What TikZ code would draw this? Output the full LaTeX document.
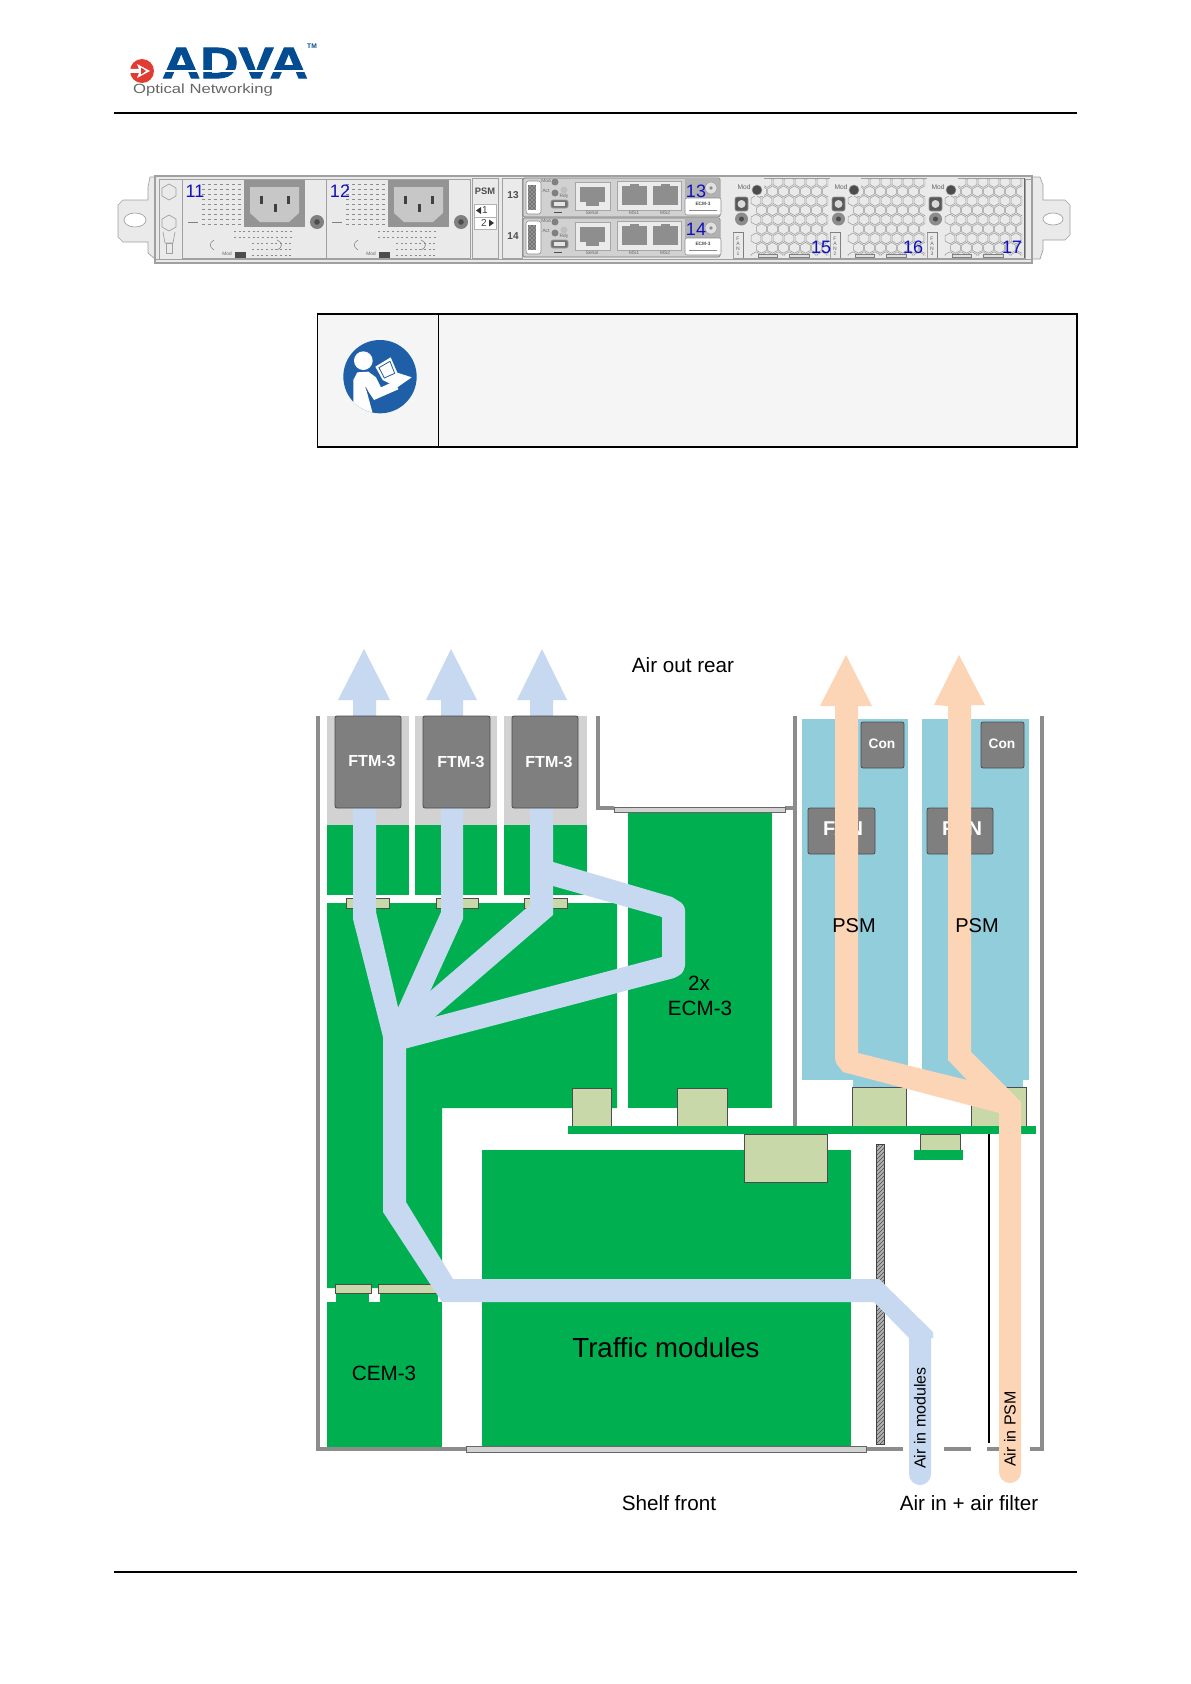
\documentclass[tikz,border=0pt]{standalone}
\usepackage{fontspec}
\setmainfont{Liberation Sans}
\usetikzlibrary{patterns}
\definecolor{pgreen}{HTML}{00B050}
\definecolor{ppale}{HTML}{C9D8A8}
\definecolor{pblue}{HTML}{C6D9F0}
\definecolor{porange}{HTML}{FBD5B5}
\definecolor{ppsm}{HTML}{92CDDC}
\definecolor{pdark}{HTML}{7F7F7F}
\definecolor{plight}{HTML}{D2D2D2}
\definecolor{pwall}{HTML}{8C8C8C}
\definecolor{pnum}{HTML}{1010C0}
\definecolor{pbody}{HTML}{EAEAEA}
\definecolor{pedge}{HTML}{A0A0A0}
\definecolor{pport}{HTML}{8E8E8E}
\definecolor{plogo}{HTML}{034C92}
\definecolor{pred}{HTML}{E03C31}
\definecolor{pnote}{HTML}{F5F5F5}
\definecolor{pinfo}{HTML}{1F5FA8}
\newcommand\fs[1]{\fontsize{#1}{#1}\selectfont}
\newcommand\hexcell[2]{\draw[hexline] (#1,#2-5.4) -- (#1+4.8,#2-2.7) -- (#1+4.8,#2+2.7) -- (#1,#2+5.4) -- (#1-4.8,#2+2.7) -- (#1-4.8,#2-2.7) -- cycle;}
\tikzset{
  txt/.style={inner sep=0pt,font=\fs{15.5}},
  wall/.style={line width=2.4pt,pwall},
  greenbox/.style={fill=pgreen,draw=none},
  palebox/.style={fill=ppale,draw=black!70,line width=.5pt},
  darkbox/.style={fill=pdark,draw=black!70,line width=.6pt,rounded corners=1.5pt},
  bezel/.style={fill=plight,draw=black!60,line width=.6pt},
  hexline/.style={draw=black!40,line width=.4pt},
  panelbox/.style={fill=pbody,draw=pedge,line width=.5pt},
  num/.style={inner sep=0pt,text=pnum,font=\fs{13.5}},
  tiny/.style={inner sep=0pt,text=black!60,font=\fs{3.6}},
  ftmtxt/.style={inner sep=0pt,text=white,font=\bfseries\fs{12}},
  contxt/.style={inner sep=0pt,text=white,font=\bfseries\fs{10.3}},
  fantxt/.style={inner sep=0pt,text=white,font=\bfseries\fs{15}},
}
\begin{document}
\begin{tikzpicture}[x=0.75pt,y=-0.75pt]
\useasboundingbox (0,0) rectangle (1191,1684);
\fill[white] (0,0) rectangle (1191,1684);
% ---- header / footer
\draw[line width=1.5pt] (114,113) -- (1077,113);
\draw[line width=1.5pt] (114,1572) -- (1077,1572);
% logo
\fill[pred] (142,71) circle (12);
\fill[white] (130,69) -- (139,69) -- (137,64) -- (150,71) -- (137,78) -- (139,73) -- (130,73) -- cycle;
\fill[pred] (141,67.5) -- (146,71) -- (141,74.5) -- cycle;
\node[inner sep=0pt,text=plogo,font=\bfseries\fs{33}\addfontfeature{FakeBold=2},xscale=1.2] (logoname) at (235,63) {ADVA};
\fill[white] (160,70) rectangle (310,71.6);
\node[inner sep=0pt,text=plogo,font=\bfseries\fs{5}] (logotm) at (312,46) {TM};
\node[inner sep=0pt,text=black!60,font=\fs{10},xscale=1.25] (logosub) at (203,90.5) {Optical Networking};
% ---- rear panel
\draw[panelbox] (155,177) -- (150,177) -- (148,187) -- (148,200) -- (123,200) -- (118,205) -- (118,237) -- (123,242) -- (148,242) -- (148,253) -- (155,259) -- cycle;
\draw[panelbox,fill=white] (135,220) ellipse (11 and 7);
\draw[panelbox] (1032,177) -- (1040,177) -- (1043,185) -- (1043,200) -- (1065,200) -- (1070,205) -- (1070,235) -- (1065,240) -- (1043,240) -- (1043,250) -- (1040,259) -- (1032,259) -- cycle;
\draw[panelbox,fill=white] (1053,219) ellipse (10 and 6);
\draw[panelbox,line width=.8pt] (155,176) rectangle (1032,263);
\draw[pedge,line width=.5pt] (155,259) -- (1032,259);
\draw[pedge,line width=.5pt] (159,179) rectangle (182,259);
\draw[panelbox] (169,184) -- (176,188) -- (176,196) -- (169,200) -- (162,196) -- (162,188) -- cycle;
\draw[panelbox] (169,215) -- (176,219) -- (176,227) -- (169,231) -- (162,227) -- (162,219) -- cycle;
\draw[pedge,line width=.5pt] (163,232) -- (165,243) -- (173,243) -- (175,232);
\draw[panelbox] (166,243) rectangle (172,253);
\draw[pedge,line width=.5pt] (1025,179) rectangle (1031,259);
% PSU modules
\foreach \ox in {182,326}{
\begin{scope}[shift={(\ox,0)}]
  \draw[panelbox] (0,179) rectangle (144,258);
  \foreach \ry in {184,189,...,224}{\draw[black!45,line width=.7pt,dash pattern=on 2pt off 2.5pt] (20,\ry) -- (60,\ry);}
  \foreach \ry in {231,237,...,255}{\draw[black!45,line width=.7pt,dash pattern=on 1.5pt off 2pt] (\ifnum\ry>237 70\else 52\fi,\ry) -- (110,\ry);}
  \draw[black!50,line width=.5pt] (6,222) -- (16,222);
  \draw[black!50,line width=.4pt] (32,240) .. controls (27,243) and (27,247) .. (32,250);
  \draw[black!50,line width=.4pt] (95,240) .. controls (101,243) and (101,247) .. (95,250);
  \fill[black!42] (62,180) rectangle (123,227);
  \fill[black!22] (68,187) -- (117,187) -- (117,213) -- (107,222) -- (78,222) -- (68,213) -- cycle;
  \fill[black!75] (77.5,196) rectangle (81,204);
  \fill[black!75] (104.5,196) rectangle (108,204);
  \fill[black!75] (91.5,204) rectangle (95,212);
  \fill[black!50] (135,222) circle (7);
  \fill[black!70] (135,222) circle (2.8);
  \fill[black!70] (53,252) rectangle (64,258);
  \node[tiny] at (45,253.5) {Mod};
\end{scope}}
\node[num] (n11) at (195,191) {11};
\node[num] (n12) at (340,191) {12};
% PSM column
\draw[panelbox] (472,178) rectangle (498,258);
\node[inner sep=0pt,text=black!70,font=\bfseries\fs{7}] (psmcol) at (485,191) {PSM};
\draw[panelbox,fill=white,draw=black!30] (474,204) rectangle (496,217);
\draw[panelbox,fill=white,draw=black!30] (474,217) rectangle (496,229);
\fill[black!80] (476,210.5) -- (481,207) -- (481,214) -- cycle;
\fill[black!80] (494,223) -- (489,219.5) -- (489,226.5) -- cycle;
\node[inner sep=0pt,text=black!75,font=\fs{7.5}] (psm1) at (485,210.5) {1};
\node[inner sep=0pt,text=black!75,font=\fs{7.5}] (psm2) at (484,223) {2};
% slot numbers
\draw[panelbox] (502,178) rectangle (522,258);
\node[inner sep=0pt,text=black!70,font=\bfseries\fs{7.5}] (slot13) at (513,195) {13};
\node[inner sep=0pt,text=black!70,font=\bfseries\fs{7.5}] (slot14) at (513,236) {14};
% ECM modules
\foreach \oy in {178,218}{
\begin{scope}[shift={(523,\oy)}]
  \draw[fill=black!18,draw=black!55,line width=.5pt,rounded corners=1pt] (0,0) rectangle (197,39);
  \draw[fill=white,draw=black!45,line width=.4pt,rounded corners=2pt] (3,3) rectangle (18,36);
  \fill[black!55] (5,7) rectangle (13,32);
  \fill[pattern=crosshatch dots,pattern color=white] (5,7) rectangle (13,32);
  \fill[black!50] (32,4) circle (3.5);
  \fill[black!50] (32,15) circle (3.5);
  \fill[black!25] (41,12) circle (3.5);
  \node[tiny] at (23,2.5) {Mod};
  \node[tiny] at (23,12.5) {Act};
  \node[tiny] at (41,18) {Rdy};
  \draw[fill=black!55,draw=black!40,line width=.5pt,rounded corners=1.5pt] (28,22) rectangle (45,30);
  \fill[black!10] (31,24) rectangle (42,28);
  \draw[black!70,line width=.4pt] (31,34) -- (39,34);
  \draw[fill=black!8,draw=black!35,line width=.4pt] (52,4) rectangle (87,32);
  \fill[pport] (57,9) rectangle (82,24);
  \fill[pport] (63,24) rectangle (76,28);
  \node[tiny] at (69,35) {Serial};
  \draw[fill=black!8,draw=black!35,line width=.4pt] (94,3) rectangle (158,32);
  \fill[pport] (99,8) rectangle (124,27);
  \fill[pport] (107,6) rectangle (116,8);
  \fill[pport] (130,8) rectangle (155,27);
  \fill[pport] (138,6) rectangle (147,8);
  \node[tiny] at (111,35) {MS1};
  \node[tiny] at (142,35) {MS2};
  \fill[black!30] (162,0) rectangle (196,20);
  \draw[fill=black!12,draw=black!40,line width=.4pt] (188,10) circle (6);
  \fill[black!45] (188,10) circle (1.8);
  \draw[fill=white,draw=black!45,line width=.4pt,rounded corners=1.5pt] (162,20) rectangle (198,37);
  \node[inner sep=0pt,text=black!70,font=\bfseries\fs{3.6}] at (180,25.5) {ECM-3};
  \draw[black!45,line width=.7pt] (166,32) -- (194,32);
\end{scope}}
\node[num] (n13) at (696,191) {13};
\node[num] (n14) at (696,229) {14};
% fan modules
\foreach \ox/\fnum in {733/1,830/2,927/3}{
\begin{scope}[shift={(\ox,178)}]
  \draw[panelbox] (0,0) rectangle (97,80);
  \begin{scope}
    \clip (17,0) rectangle (95,77);
    \foreach \j in {0,...,8}{\foreach \i in {0,...,7}{
      \pgfmathsetmacro\hx{23+11*\i+5.5*mod(\j,2)}
      \pgfmathsetmacro\hy{4+9.4*\j}
      \hexcell{\hx}{\hy}
    }}
  \end{scope}
  \fill[pbody] (0,0) rectangle (15,55);
  \fill[pbody] (0,0) rectangle (31,18);
  \node[inner sep=0pt,text=black!60,font=\fs{5}] at (11,9) {Mod};
  \draw[fill=black!70,draw=black!40,line width=.4pt] (24,12) circle (5);
  \draw[fill=black!65,draw=black!40,line width=.4pt,rounded corners=1.5pt] (2,19) rectangle (15,33);
  \fill[black!15] (8.5,26) circle (4);
  \fill[black!45] (8.5,41) circle (6.5);
  \fill[black!70] (8.5,41) circle (2.5);
  \draw[black!50,line width=.4pt] (0,54) -- (10,54) -- (10,80);
  \node[inner sep=0pt,text=black!60,font=\fs{3.8},align=center] at (5,68) {F\\A\\N\\\fnum};
  \draw[fill=black!12,draw=black!50,line width=.4pt] (25,76) rectangle (44,79);
  \draw[fill=black!12,draw=black!50,line width=.4pt] (56,76) rectangle (76,79);
  \draw[black!60,line width=.6pt] (97,0) -- (97,80);
\end{scope}}
\node[num] (n15) at (821,247) {15};
\node[num] (n16) at (913,247) {16};
\node[num] (n17) at (1012,247) {17};
% ---- note box
\draw[fill=pnote,line width=.9pt] (317.5,314) rectangle (1077,447);
\draw[line width=.75pt] (438,314) -- (438,447);
\begin{scope}[shift={(300,300)},x=0.25pt,y=-0.25pt]
  \fill[pinfo] (240,230) circle (110);
  \begin{scope}
    \clip (240,230) circle (110);
    \fill[white] (190,182) circle (28);
    \fill[white] (160,240) -- (172,217) -- (205,215) -- (228,232) -- (243,262) -- (285,243) -- (295,268) -- (222,300) -- (197,262) -- (218,340) -- (160,340) -- cycle;
    \fill[white] (226,200) -- (272,172) -- (292,218) -- (335,232) -- (292,262) -- (248,240) -- cycle;
    \draw[pinfo,line width=.6pt] (237,203) -- (270,184) -- (284,220) -- (253,234) -- cycle;
    \draw[pinfo,line width=.5pt] (197,262) -- (210,290);
  \end{scope}
\end{scope}
% ---- cooling diagram: walls
\draw[wall] (318,716) -- (318,1449) -- (903,1449);
\draw[wall] (598,716) -- (598,808) -- (614,808);
\draw[wall] (785,808) -- (795,808);
\draw[wall] (795,716) -- (795,1127);
\draw[wall] (1042,716) -- (1042,1449) -- (1030,1449);
\draw[wall] (944,1449) -- (971,1449);
\draw[wall] (987,1449) -- (999,1449);
% boards
\fill[pgreen] (327,825) rectangle (409,895);
\fill[pgreen] (415,825) rectangle (497,895);
\fill[pgreen] (504,825) rectangle (587,895);
\fill[pgreen] (327,903) -- (617,903) -- (617,1108) -- (442,1108) -- (442,1288) -- (327,1288) -- cycle;
\fill[pgreen] (327,1302) rectangle (442,1447);
\fill[pgreen] (336,1293) rectangle (369,1302);
\fill[pgreen] (380,1293) rectangle (438,1302);
\fill[pgreen] (628,812) rectangle (772,1108);
\fill[pgreen] (482,1150) rectangle (851,1447);
% FTM cases
\fill[plight] (327,716) rectangle (409,825);
\fill[plight] (415,716) rectangle (497,825);
\fill[plight] (504,716) rectangle (587,825);
% pale connectors
\draw[palebox] (346,898) rectangle (389,908);
\draw[palebox] (436,898) rectangle (478,908);
\draw[palebox] (524,898) rectangle (567,908);
\draw[palebox] (335,1284) rectangle (371,1293);
\draw[palebox] (378,1284) rectangle (440,1293);
\draw[palebox] (572,1088) rectangle (611,1126);
\draw[palebox] (677,1088) rectangle (727,1126);
\draw[palebox] (852,1087) rectangle (906,1127);
\draw[palebox] (971,1087) rectangle (1026,1127);
\draw[palebox] (744,1134) rectangle (827,1182);
\draw[palebox] (920,1134) rectangle (960,1150);
\fill[pgreen] (914,1150) rectangle (963,1160);
\fill[pgreen] (568,1126) rectangle (1036,1134);
% bezels
\draw[bezel] (614,807) rectangle (785,812);
\draw[bezel] (466,1446) rectangle (866,1452);
% hatched bar
\draw[fill=black!30,draw=black!75,line width=.7pt] (876,1144) rectangle (884,1444);
\fill[pattern=north east lines,pattern color=black!70] (876,1144) rectangle (884,1444);
% thin black line
\draw[line width=1.5pt] (989,1134) -- (989,1443);
% PSM modules
\fill[ppsm] (802,719) rectangle (908,1080);
\fill[ppsm] (853,1080) rectangle (908,1087);
\fill[ppsm] (922,719) rectangle (1029,1080);
\fill[ppsm] (971,1080) rectangle (1023,1087);
\draw[darkbox] (861,722) rectangle (904,768);
\draw[darkbox] (981,722) rectangle (1024,768);
\draw[darkbox] (808,808) rectangle (875,854);
\draw[darkbox] (927,808) rectangle (993,854);
\node[fantxt] (fan1) at (843,829) {FAN};
\node[fantxt] (fan2) at (962,829) {FAN};
% blue air flow
\fill[pblue] (364,649) -- (390,700) -- (376,700) -- (376,912) -- (398,1007) -- (406,1040) -- (406,1202)
  -- (453,1279) -- (879,1279) -- (933,1332) -- (933,1338) -- (931,1338) -- (931,1474)
  -- (909,1474) -- (909,1338) -- (874,1302) -- (442,1302) -- (383,1212) -- (383,1037)
  -- (353,919) -- (353,700) -- (338,700) -- cycle;
\fill[pblue] (920,1474) circle (11);
\fill[pblue] (451,649) -- (477,700) -- (463,700) -- (463,919) -- (398,1062) -- (385,1037) -- (441,912) -- (441,700) -- (426,700) -- cycle;
\fill[pblue] (542,649) -- (567,700) -- (553,700) -- (553,915) -- (400,1047) -- (392,1024) -- (530,905) -- (530,700) -- (517,700) -- cycle;
\fill[pblue] (553,862) -- (672,897) [rounded corners=4pt] -- (685,905) -- (685,970) -- (678,977) [sharp corners]
  -- (404,1049) -- (398,1026) -- (438,1016) -- (662,957) -- (662,917) -- (553,886) -- cycle;
% FTM on top of flow
\draw[darkbox] (335,716) rectangle (401,808);
\draw[darkbox] (423,716) rectangle (490,808);
\draw[darkbox] (512,716) rectangle (578,808);
\node[ftmtxt] (ftm1) at (372,761) {FTM-3};
\node[ftmtxt] (ftm2) at (461,762) {FTM-3};
\node[ftmtxt] (ftm3) at (549,762) {FTM-3};
\node[contxt] (con1) at (882,744) {Con};
\node[contxt] (con2) at (1002,744) {Con};
% orange air flow
\fill[porange] (846,655) -- (872,706) -- (858,706) -- (858,1053) -- (967,1080) -- (948,1060)
  -- (948,706) -- (934,705) -- (959,655) -- (985,705) -- (971,705) -- (971,1052)
  -- (1021,1102) -- (1021,1472) -- (999,1472) -- (999,1113) -- (843,1072)
  [rounded corners=3pt] -- (835,1062) [sharp corners] -- (835,706) -- (820,706) -- cycle;
\fill[porange] (1010,1472) circle (11);
% bottom dash over blue area
\draw[wall] (867,1449) -- (903,1449);
% labels
\node[txt] (airout) at (683,665) {Air out rear};
\node[txt,font=\fs{15}] (psm-a) at (854,926) {PSM};
\node[txt,font=\fs{15}] (psm-b) at (977,926) {PSM};
\node[txt] (twox) at (699,983) {2x};
\node[txt] (ecm) at (700,1008) {ECM-3};
\node[txt,font=\fs{20.7}] (traffic) at (666,1348) {Traffic modules};
\node[txt] (cem) at (384,1373) {CEM-3};
\node[txt] (shelf) at (669,1503) {Shelf front};
\node[txt] (airin) at (969,1503) {Air in + air filter};
\node[txt,font=\fs{12},rotate=90] (airmod) at (920,1418) {Air in modules};
\node[txt,font=\fs{12},rotate=90] (airpsm) at (1010,1429) {Air in PSM};
\end{tikzpicture}
\end{document}
